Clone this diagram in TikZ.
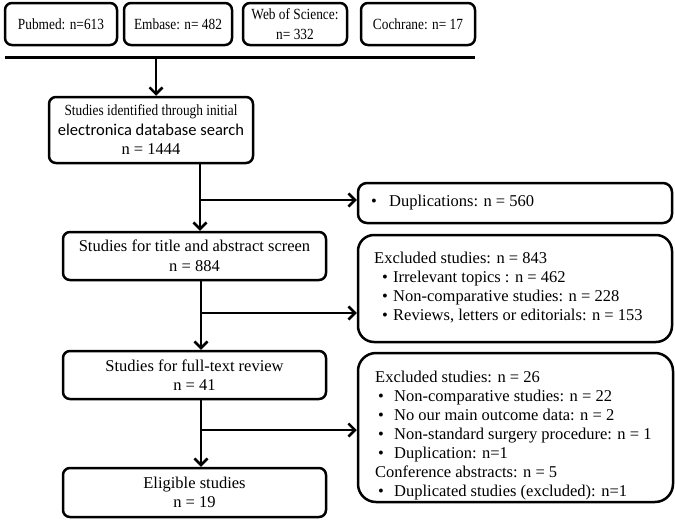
\documentclass[tikz,border=0pt]{standalone}
\usepackage{fontspec}
\setmainfont{Liberation Serif}
\newfontfamily\cond[FakeStretch=0.86]{Liberation Serif}
\newfontfamily\calib{Carlito}
\usetikzlibrary{arrows.meta}
\newcommand{\bitem}[2][8pt]{\makebox[19pt][l]{\hspace{#1}\textbullet}#2}
\begin{document}
\begin{tikzpicture}[x=1pt,y=-1pt,
  box/.style={draw, line width=2.5pt, rounded corners=7pt, align=center, inner sep=0pt},
  bigbox/.style={draw, line width=2.5pt, rounded corners=16pt, inner sep=0pt},
  srcbox/.style={box, font=\fontsize{15.5}{20}\cond, minimum height=42pt},
  mainfont/.style={font=\fontsize{16.5}{19.5}\selectfont},
  listtext/.style={font=\fontsize{16.5}{19}\selectfont, align=left, inner sep=0pt, anchor=west},
  arr/.style={line width=2.5pt, -{Straight Barb[length=6.5pt,width=13pt,line width=2.5pt]}}]
\useasboundingbox (0,0) rectangle (675,522);
% sources
\node[srcbox, minimum width=112pt] (pub) at (61,24) {Pubmed: n=613};
\node[srcbox, minimum width=108pt] (emb) at (178,24) {Embase: n= 482};
\node[srcbox, minimum width=104pt] (wos) at (295,24) {Web of Science:\\n= 332};
\node[srcbox, minimum width=114pt] (coc) at (418,24) {Cochrane: n= 17};
\coordinate (L1) at (5,57);
\coordinate (L2) at (475,57);
\draw[line width=3pt] (L1) -- (L2);
% main column
\node[box, mainfont, minimum width=204pt, minimum height=66pt] (b1) at (151,130)
  {{\fontsize{15.5}{19.5}\cond Studies identified  through initial}\\{\calib electronica database search}\\n = 1444};
\node[box, mainfont, minimum width=263pt, minimum height=48pt] (b2) at (194.5,256)
  {Studies for title and abstract screen\\n = 884};
\node[box, mainfont, minimum width=263pt, minimum height=48pt] (b3) at (194.5,375)
  {Studies for full-text review\\n = 41};
\node[box, mainfont, minimum width=263pt, minimum height=49pt] (b4) at (194.5,492.5)
  {Eligible studies\\n = 19};
% side boxes
\node[box, rounded corners=9pt, minimum width=314pt, minimum height=40pt] (dup) at (515,203) {};
\node[listtext] (dupt) at (370,203) {\bitem[1pt]{Duplications: n = 560}};
\node[bigbox, minimum width=314pt, minimum height=107pt] (ex1) at (515,288.5) {};
\node[listtext] (ex1t) at (374,288) {Excluded studies: n = 843\\
  \bitem{Irrelevant topics : n = 462}\\
  \bitem{Non-comparative studies: n = 228}\\
  \bitem{Reviews, letters or editorials: n = 153}};
\node[bigbox, rounded corners=18pt, minimum width=315pt, minimum height=149pt] (ex2) at (515.5,427.5) {};
\node[listtext] (ex2t) at (375,435.5) {Excluded studies: n = 26\\
  \bitem[3pt]{Non-comparative studies: n = 22}\\
  \bitem[3pt]{No our main outcome data: n = 2}\\
  \bitem[3pt]{Non-standard surgery procedure: n = 1}\\
  \bitem[3pt]{Duplication: n=1}\\
  Conference abstracts: n = 5\\
  \bitem[3pt]{Duplicated studies (excluded): n=1}};
% connectors
\coordinate (a0) at (156,57);
\draw[arr] (a0) -- (a0 |- b1.north);
\coordinate (v1) at (200,200);
\coordinate (v2) at (201,313);
\coordinate (v3) at (201,430);
\draw[arr] (b1.south -| v1) -- (b2.north -| v1);
\draw[arr] (v1) -- (v1 -| dup.west);
\draw[arr] (b2.south -| v2) -- (b3.north -| v2);
\draw[arr] (v2) -- (v2 -| ex1.west);
\draw[arr] (b3.south -| v3) -- (b4.north -| v3);
\draw[arr] (v3) -- (v3 -| ex2.west);
\end{tikzpicture}
\end{document}
